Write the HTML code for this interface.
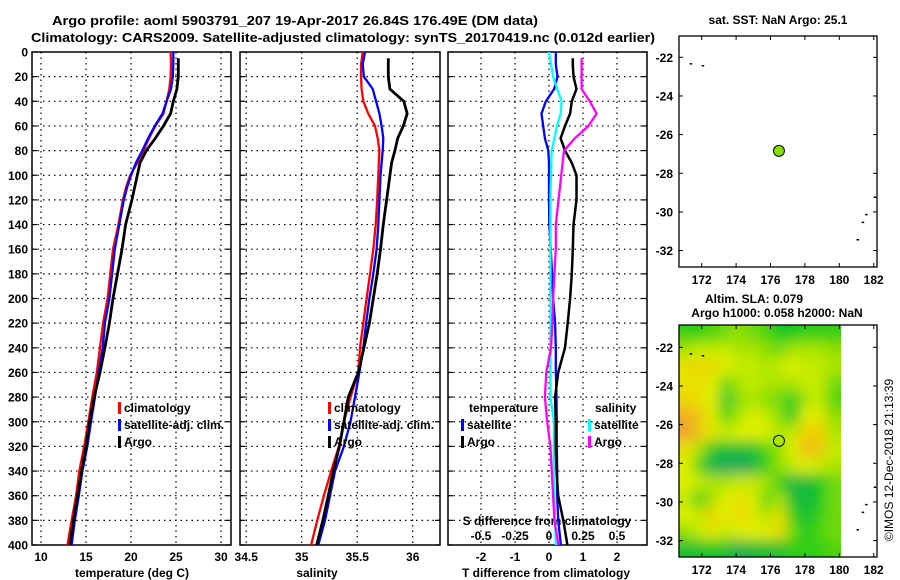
<!DOCTYPE html>
<html><head><meta charset="utf-8">
<style>
html,body{margin:0;padding:0;background:#fff;}
svg{display:block;font-family:"Liberation Sans",Arial,sans-serif;}
.t{font-weight:bold;font-size:12px;fill:#000;}
.h{font-weight:bold;font-size:13px;fill:#000;}
</style></head>
<body>
<svg id="fig" width="900" height="580" viewBox="0 0 900 580" xmlns="http://www.w3.org/2000/svg">
<defs>
<clipPath id="heatClip"><rect x="679" y="325" width="162" height="232"/></clipPath>
<filter id="blur" filterUnits="userSpaceOnUse" x="640" y="290" width="240" height="300"><feGaussianBlur stdDeviation="7"/></filter>
</defs>
<text class="h" x="295" y="25" text-anchor="middle" textLength="486" lengthAdjust="spacingAndGlyphs">Argo profile: aoml 5903791_207 19-Apr-2017 26.84S 176.49E (DM data)</text>
<text class="h" x="343" y="42" text-anchor="middle" textLength="624" lengthAdjust="spacingAndGlyphs">Climatology: CARS2009. Satellite-adjusted climatology: synTS_20170419.nc (0.012d earlier)</text>
<text class="t" x="778" y="24" text-anchor="middle">sat. SST: NaN Argo: 25.1</text>
<text class="t" x="754" y="303" text-anchor="middle">Altim. SLA: 0.079</text>
<text class="t" x="777" y="317" text-anchor="middle">Argo h1000: 0.058 h2000: NaN</text>
<text x="893" y="460" font-size="12" text-anchor="middle" transform="rotate(-90 893 460)">©IMOS 12-Dec-2018 21:13:39</text>
<g id="layer"></g>
</svg>
<script>
// ---- profile data ----
const climDepths = [0,10,20,30,40,50,60,70,80,90,100,110,120,140,160,180,200,220,240,260,280,300,320,340,360,380,400];
const argoDepths = [5,10,20,30,40,50,60,70,80,90,100,110,120,140,160,180,200,220,240,260,280,300,320,340,360,380,400];
const tempClim = [24.4,24.45,24.4,24.25,23.95,23.6,22.7,22.0,21.4,20.7,19.9,19.45,19.1,18.6,18.0,17.7,17.4,16.9,16.55,16.2,15.7,15.25,14.8,14.25,13.9,13.4,12.95];
const tempSat = [24.7,24.7,24.65,24.45,23.95,23.5,22.65,21.9,21.25,20.55,20.0,19.55,19.2,18.7,18.2,17.9,17.6,17.1,16.85,16.4,16.0,15.55,15.15,14.6,14.2,13.75,13.4];
const tempArgo = [25.26,25.26,25.26,25.1,24.7,24.4,23.6,22.7,21.7,21.0,20.7,20.4,20.1,19.4,19.0,18.5,18.0,17.6,17.1,16.55,15.9,15.4,15.0,14.5,14.05,13.6,13.2];
const salClim = [35.55,35.534,35.534,35.54,35.555,35.60,35.66,35.685,35.70,35.695,35.69,35.685,35.68,35.667,35.645,35.615,35.585,35.555,35.525,35.51,35.44,35.38,35.335,35.265,35.20,35.14,35.085];
const salSat = [35.57,35.55,35.56,35.64,35.67,35.70,35.72,35.735,35.73,35.72,35.71,35.705,35.70,35.69,35.675,35.645,35.61,35.58,35.555,35.52,35.48,35.44,35.38,35.30,35.255,35.21,35.15];
const salArgo = [35.78,35.78,35.78,35.795,35.92,35.95,35.915,35.865,35.84,35.81,35.795,35.78,35.765,35.735,35.71,35.68,35.645,35.61,35.56,35.51,35.42,35.38,35.34,35.285,35.24,35.19,35.135];
const tDiffSat = [0.2,0.2,0.25,0.15,-0.09,-0.22,-0.17,-0.12,-0.02,0.0,0.0,0.0,0.0,0.01,0.05,0.09,0.12,0.18,0.2,0.2,0.22,0.23,0.23,0.24,0.24,0.27,0.35];
const tDiffArgo = [0.7,0.7,0.72,0.81,0.67,0.62,0.47,0.34,0.47,0.67,0.81,0.81,0.81,0.72,0.7,0.67,0.62,0.55,0.47,0.27,0.18,0.2,0.2,0.22,0.27,0.42,0.54];
const sDiffSat = [0.0,0.015,0.03,0.06,0.093,0.085,0.057,0.04,0.02,0.017,0.015,0.012,0.01,0.01,0.01,0.01,0.01,0.01,0.01,0.01,0.01,0.037,0.035,0.035,0.04,0.045,0.05];
const sDiffArgo = [0.24,0.24,0.24,0.24,0.30,0.35,0.29,0.19,0.11,0.10,0.09,0.08,0.07,0.05,0.05,0.04,0.03,0.025,0.015,-0.02,-0.03,-0.013,0.01,0.02,0.03,0.04,0.07];
const depthTicks = [0,20,40,60,80,100,120,140,160,180,200,220,240,260,280,300,320,340,360,380,400];
const tempTicks = [10,15,20,25,30];
const salTicks = [34.5,35,35.5,36];
const tDiffTicks = [-2,-1,0,1,2];
const sDiffTicks = [-0.5,-0.25,0,0.25,0.5];
const sDiffTickLabels = ['-0.5','-0.25','0','0.25','0.5'];
// ---- map data ----
const lonTicks = [172,174,176,178,180,182];
const latTicks = [-22,-24,-26,-28,-30,-32];
const argoLon = 176.49, argoLat = -26.84;
const heatLons = [171.07,171.85,172.62,173.4,174.18,174.95,175.73,176.51,177.28,178.06,178.83,179.61];
const heatLats = [-21.28,-22.13,-22.99,-23.84,-24.7,-25.56,-26.41,-27.27,-28.12,-28.98,-29.84,-30.69,-31.55,-32.4];
const heatValues = [
[0.3,0.3,0.35,0.4,0.45,0.4,0.35,0.25,0.25,0.3,0.3,0.3],
[0.5,0.55,0.55,0.55,0.5,0.5,0.45,0.4,0.5,0.5,0.5,0.45],
[0.7,0.75,0.75,0.6,0.55,0.55,0.5,0.55,0.6,0.55,0.55,0.5],
[0.7,0.7,0.6,0.4,0.5,0.55,0.5,0.5,0.5,0.55,0.55,0.4],
[0.75,0.7,0.6,0.2,0.45,0.5,0.45,0.4,0.25,0.5,0.55,0.35],
[0.95,0.85,0.6,0.35,0.5,0.6,0.55,0.45,0.25,0.6,0.65,0.45],
[1.0,0.85,0.65,0.55,0.6,0.6,0.6,0.5,0.55,0.8,0.8,0.5],
[0.7,0.5,0.25,0.2,0.2,0.2,0.35,0.45,0.6,0.9,0.85,0.55],
[0.6,0.35,0.1,0.05,0.05,0.1,0.3,0.45,0.55,0.6,0.55,0.5],
[0.6,0.55,0.5,0.5,0.55,0.55,0.5,0.3,0.15,0.15,0.25,0.4],
[0.55,0.3,0.5,0.6,0.7,0.6,0.35,0.5,0.2,0.15,0.25,0.4],
[0.6,0.55,0.8,0.6,0.75,0.65,0.5,0.7,0.3,0.2,0.3,0.4],
[0.45,0.55,0.65,0.55,0.6,0.6,0.6,0.75,0.4,0.25,0.35,0.4],
[0.2,0.2,0.25,0.2,0.1,0.15,0.2,0.2,0.3,0.3,0.3,0.35]];

const NS='http://www.w3.org/2000/svg';
const layer=document.getElementById('layer');
function mk(tag,attrs,parent){const e=document.createElementNS(NS,tag);for(const k in attrs)e.setAttribute(k,attrs[k]);(parent||layer).appendChild(e);return e;}

const PY0=52, PY1=545;
const yD = d => PY0 + d*(PY1-PY0)/400;
const xT = t => 41 + (t-10)*9;
const xS = s => 301.7 + (s-35)*111;
const xTd = t => 549 + t*34;
const xSd = s => 549 + s*136;

const panels=[
 {name:'temperature',x0:32,x1:231,fx:xT,ticks:tempTicks,labels:tempTicks.map(String),title:'temperature (deg C)',tx:132},
 {name:'salinity',x0:240,x1:440,fx:xS,ticks:salTicks,labels:salTicks.map(String),title:'salinity',tx:317},
 {name:'difference',x0:448,x1:647,fx:xTd,ticks:tDiffTicks,labels:tDiffTicks.map(String),title:'T difference from climatology',tx:546}
];
panels.forEach((p,pi)=>{
  const g=mk('g',{});
  
  
  depthTicks.forEach(d=>{
    if(d>0&&d<400){const l=mk('line',{x1:p.x0,x2:p.x1,y1:yD(d),y2:yD(d),stroke:'#000','stroke-width':1.2,'stroke-dasharray':'1.5,4'},g);
    
    }
    mk('line',{x1:p.x0,x2:p.x0+5,y1:yD(d),y2:yD(d),stroke:'#000','stroke-width':1.2},g);
    mk('line',{x1:p.x1-5,x2:p.x1,y1:yD(d),y2:yD(d),stroke:'#000','stroke-width':1.2},g);
  });
  p.ticks.forEach((v,i)=>{
    const x=p.fx(v);
    if(x>p.x0+2&&x<p.x1-2){const l=mk('line',{x1:x,x2:x,y1:PY0,y2:PY1,stroke:'#000','stroke-width':1.2,'stroke-dasharray':'1.5,4'},g);
    
    }
    const t=mk('text',{x:x,y:561,class:'t','text-anchor':'middle'},g);t.textContent=p.labels[i];
    
    
  });
  mk('rect',{x:p.x0,y:PY0,width:p.x1-p.x0,height:PY1-PY0,fill:'none',stroke:'#000','stroke-width':1.5},g);
  const tt=mk('text',{x:p.tx,y:577,class:'t','text-anchor':'middle'},g);tt.textContent=p.title;
  
  
});
depthTicks.forEach(d=>{
  const t=mk('text',{x:28,y:yD(d)+4.5,class:'t','text-anchor':'end'});t.textContent=d;
  
  
});
sDiffTicks.forEach((s,i)=>{
  const t=mk('text',{x:xSd(s),y:540,class:'t','text-anchor':'middle'});t.textContent=sDiffTickLabels[i];
  
  
});
const sdt=mk('text',{x:547,y:525,class:'t','text-anchor':'middle'});sdt.textContent='S difference from climatology';



function line(depths,vals,fx,color,w,name){
  const pts=depths.map((d,i)=>fx(vals[i]).toFixed(1)+','+yD(d).toFixed(1)).join(' ');
  const l=mk('polyline',{points:pts,fill:'none',stroke:color,'stroke-width':w,'stroke-linejoin':'miter'});
  
  
}
line(climDepths,tempClim,xT,'#ff0000',2.3,'temperature-climatology-line');
line(climDepths,tempSat,xT,'#0000ff',2.3,'temperature-satellite-line');
line(argoDepths,tempArgo,xT,'#000',2.8,'temperature-argo-line');
line(climDepths,salClim,xS,'#ff0000',2.3,'salinity-climatology-line');
line(climDepths,salSat,xS,'#0000ff',2.3,'salinity-satellite-line');
line(argoDepths,salArgo,xS,'#000',2.8,'salinity-argo-line');
line(climDepths,tDiffSat,xTd,'#0000ff',2.3,'t-diff-satellite-line');
line(climDepths,sDiffSat,xSd,'#00ffff',2.3,'s-diff-satellite-line');
line(argoDepths,tDiffArgo,xTd,'#000',2.5,'t-diff-argo-line');
line(argoDepths,sDiffArgo,xSd,'#ff00ff',2.3,'s-diff-argo-line');

function legend(x,y,color,label,name){
  mk('rect',{x:x,y:y-10,width:3,height:12,fill:color});
  const t=mk('text',{x:x+6,y:y,class:'t'});t.textContent=label;
  
  
}
legend(118,412,'#ff0000','climatology','legend-climatology');
legend(118,429,'#0000ff','satellite-adj. clim.','legend-satellite');
legend(118,446,'#000','Argo','legend-argo');
legend(328,412,'#ff0000','climatology','legend-climatology-2');
legend(328,429,'#0000ff','satellite-adj. clim.','legend-satellite-2');
legend(328,446,'#000','Argo','legend-argo-2');
const lt=mk('text',{x:469,y:412,class:'t'});lt.textContent='temperature';


const ls=mk('text',{x:595,y:412,class:'t'});ls.textContent='salinity';


legend(461,429,'#0000ff','satellite','legend-t-satellite');
legend(461,446,'#000','Argo','legend-t-argo');
legend(588,429,'#00ffff','satellite','legend-s-satellite');
legend(588,446,'#ff00ff','Argo','legend-s-argo');

// ---- maps ----
function cmap(v){
  const st=[[0,[24,160,112]],[0.25,[16,200,32]],[0.45,[144,224,0]],[0.6,[224,240,0]],[0.8,[240,208,0]],[1,[240,160,48]]];
  for(let i=1;i<st.length;i++){if(v<=st[i][0]){const a=st[i-1],b=st[i];const f=(v-a[0])/(b[0]-a[0]);
  return 'rgb('+a[1].map((c,k)=>Math.round(c+(b[1][k]-c)*f)).join(',')+')';}}
  return 'rgb(240,160,48)';
}
function makeMap(top,bot,latY22,name){
  const L=679,R=877;
  const xL = lon => 701.7 + (lon-172)*17.2;
  const yL = lat => latY22 + (-22-lat)*19.33;
  const g=mk('g',{});
  
  
  if(name==='sla-map'){
    const hg=mk('g',{'clip-path':'url(#heatClip)'},g);
    const hb=mk('g',{filter:'url(#blur)'},hg);
    const dx=heatLons[1]-heatLons[0], dy=heatLats[0]-heatLats[1];
    heatLats.forEach((lat,r)=>heatLons.forEach((lon,c)=>{
      let x0=xL(lon-dx/2),x1=xL(lon+dx/2),y0=yL(lat+dy/2),y1=yL(lat-dy/2);
      if(c===0)x0-=20; if(c===heatLons.length-1)x1+=20;
      if(r===0)y0-=20; if(r===heatLats.length-1)y1+=20;
      const rc=mk('rect',{x:x0,y:y0,width:x1-x0+0.6,height:y1-y0+0.6,fill:cmap(heatValues[r][c])},hb);
      
      
    }));
  }
  mk('rect',{x:L,y:top,width:R-L,height:bot-top,fill:'none',stroke:'#000','stroke-width':1.3},g);
  lonTicks.forEach(lon=>{const x=xL(lon);
    mk('line',{x1:x,x2:x,y1:top,y2:top+4,stroke:'#000'},g);mk('line',{x1:x,x2:x,y1:bot-4,y2:bot,stroke:'#000'},g);
    const t=mk('text',{x:x,y:bot+17,class:'t','text-anchor':'middle'},g);t.textContent=lon;
    
    
  });
  latTicks.forEach(lat=>{const y=yL(lat);
    mk('line',{x1:L,x2:L+4,y1:y,y2:y,stroke:'#000'},g);mk('line',{x1:R-4,x2:R,y1:y,y2:y,stroke:'#000'},g);
    const t=mk('text',{x:673,y:y+4.5,class:'t','text-anchor':'end'},g);t.textContent=lat;
    
    
  });
  [[171.3,-22.3],[172.0,-22.4],[182.0,-29.2],[181.5,-30.1],[181.3,-30.5],[181.0,-31.4]].forEach(p=>{
    mk('rect',{x:xL(p[0]),y:yL(p[1]),width:2.5,height:1.5,fill:'#000'},g);
  });
  const c=mk('circle',{cx:xL(argoLon),cy:yL(argoLat),r:5.5,fill:name==='sst-map'?'#88dd00':'none',stroke:'#000','stroke-width':1},g);
  
  
}
makeMap(36,267,57.3,'sst-map');
makeMap(325,557,347.3,'sla-map');
</script>
</body></html>
